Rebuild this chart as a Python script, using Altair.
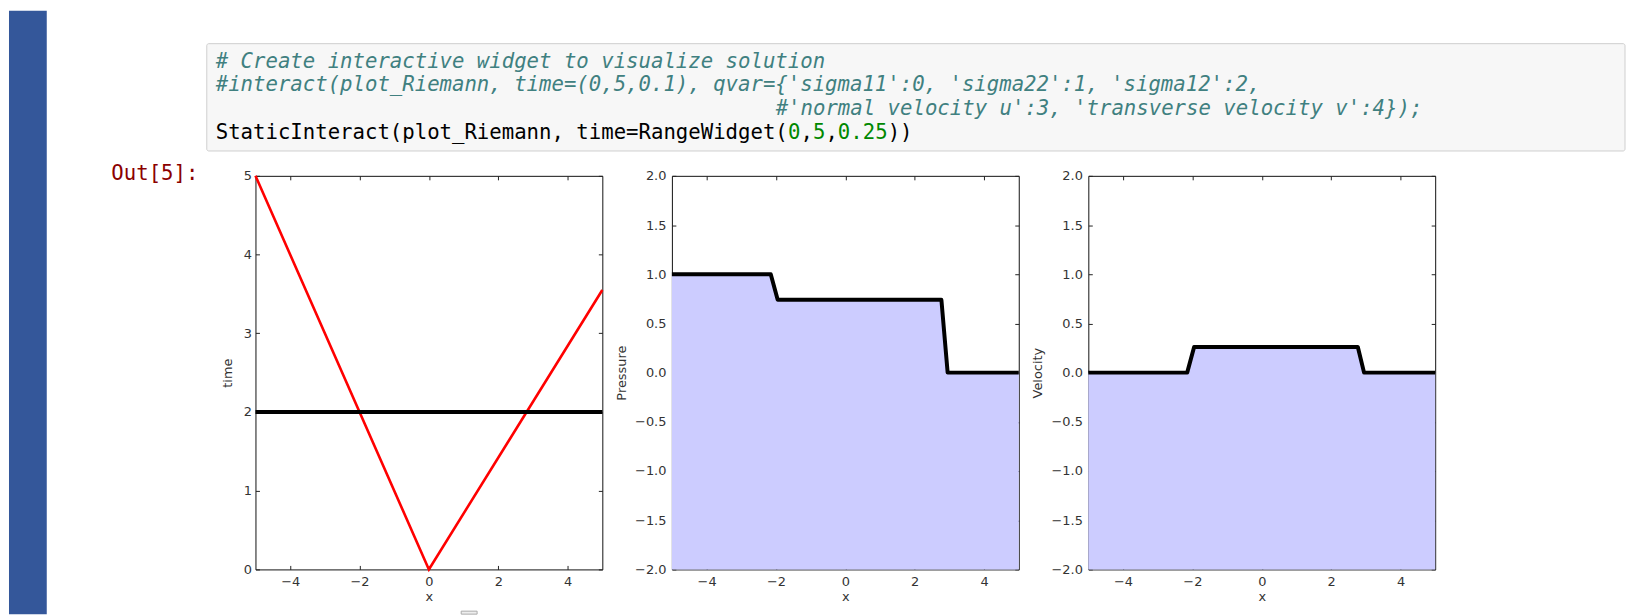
import altair as alt
import pandas as pd

# ---------------- data ----------------
x_char = [-5.0, 0.0, 5.0]          # characteristic lines (x)
t_char = [5.0, 0.0, 3.55]          # characteristic lines (time)
x_time = [-5.0, 5.0]               # current time line
t_time = [2.0, 2.0]
x_sol = [-5.0, -2.15, -1.95, 2.77, 2.95, 5.0]
pressure = [1.0, 1.0, 0.74, 0.74, 0.0, 0.0]
velocity = [0.0, 0.0, 0.26, 0.26, 0.0, 0.0]
x_ticks = [-4, -2, 0, 2, 4]
t_ticks = [0, 1, 2, 3, 4, 5]
q_ticks = [-2.0, -1.5, -1.0, -0.5, 0.0, 0.5, 1.0, 1.5, 2.0]

code_line_1 = "# Create interactive widget to visualize solution"
code_line_2 = "#interact(plot_Riemann, time=(0,5,0.1), qvar={'sigma11':0, 'sigma22':1, 'sigma12':2,"
code_line_3 = "#'normal velocity u':3, 'transverse velocity v':4});"
code_line_3_indent = 45
code_line_4 = [("StaticInteract(plot_Riemann, time=RangeWidget(", "code"), ("0", "num"), (",", "code"),
               ("5", "num"), (",", "code"), ("0.25", "num"), ("))", "code")]
out_prompt = "Out[5]:"

# ---------------- layout / style ----------------
W, H = 349, 396
X0, Y0 = 256, 174          # page position of first plot area
MONO = "DejaVu Sans Mono"
FS = 20.8
CW = 12.52
CODE_X = 216
BASE = [65, 89, 113, 137]
COLORS = {"code": "#000000", "num": "#008800", "comment": "#408080"}

dummy = pd.DataFrame({"k": [0]})


def rx(px):
    return px - X0


def ry(py):
    return py - Y0


def rect(x1, x2, y1, y2, fill, stroke=None, radius=0):
    kw = dict(fill=fill, cornerRadius=radius)
    if stroke:
        kw.update(stroke=stroke, strokeWidth=1)
    else:
        kw.update(strokeWidth=0)
    return alt.Chart(dummy).mark_rect(**kw).encode(
        x=alt.value(rx(x1)), x2=alt.value(rx(x2)), y=alt.value(ry(y1)), y2=alt.value(ry(y2)))


def txt(text, px, py, color, italic=False):
    return alt.Chart(dummy).mark_text(
        text=text, font=MONO, fontSize=FS, fontStyle="italic" if italic else "normal",
        color=color, align="left", baseline="alphabetic").encode(
        x=alt.value(rx(px)), y=alt.value(ry(py)))


decor = [
    rect(8, 46, 8, 615, "#34579a"),
    rect(207, 1634, 41, 149, "#f7f7f7", "#cfcfcf", 2),
    rect(463, 479, 612, 615, "#eeeeee", "#aaaaaa"),
    txt(code_line_1, CODE_X, BASE[0], COLORS["comment"], True),
    txt(code_line_2, CODE_X, BASE[1], COLORS["comment"], True),
    txt(code_line_3, CODE_X + code_line_3_indent * CW, BASE[2], COLORS["comment"], True),
    txt(out_prompt, 111, 178, "#8b0000"),
]
col = 0
for s, kind in code_line_4:
    decor.append(txt(s, CODE_X + col * CW, BASE[3], COLORS[kind]))
    col += len(s)

xs = alt.Scale(domain=[-5, 5], nice=False, zero=False)
ts = alt.Scale(domain=[0, 5], nice=False, zero=False)
qs = alt.Scale(domain=[-2, 2], nice=False, zero=False)

common = dict(offset=-4, tickSize=4, domain=False, grid=False, labelFlush=False,
              labelOverlap=False, labelBound=False)


def ax_bottom(title):
    return alt.Axis(orient="bottom", values=x_ticks, format="d", title=title,
                    labelPadding=6, titlePadding=2, **common)


def ax_left(values, fmt, title, lp, tp):
    return alt.Axis(orient="left", values=values, format=fmt, title=title,
                    labelPadding=lp, titlePadding=tp, **common)


def ax_top():
    return alt.Axis(orient="top", values=x_ticks, labels=False, title=None, **common)


def ax_right(values):
    return alt.Axis(orient="right", values=values, labels=False, title=None, **common)


# ----- panel 1: x-t plane -----
df_char = pd.DataFrame({"x": x_char, "t": t_char})
df_time = pd.DataFrame({"x": x_time, "t": t_time})

red = alt.Chart(df_char).mark_line(color="#ff0000", strokeWidth=2.6).encode(
    x=alt.X("x:Q", scale=xs, axis=ax_bottom("x")),
    y=alt.Y("t:Q", scale=ts, axis=ax_left(t_ticks, "d", "time", 4, 9)))
blk = alt.Chart(df_time).mark_line(color="#000000", strokeWidth=4).encode(
    x=alt.X("x:Q", scale=xs, axis=None), y=alt.Y("t:Q", scale=ts, axis=None))
frame1 = alt.Chart(df_time).mark_point(opacity=0).encode(
    x=alt.X("x:Q", scale=xs, axis=ax_top()), y=alt.Y("t:Q", scale=ts, axis=ax_right(t_ticks)))

p1 = alt.layer(*decor, red, blk, frame1).resolve_axis(x="independent", y="independent").properties(
    width=W, height=H)


def sol_panel(vals, title, tp):
    df = pd.DataFrame({"x": x_sol, "q": vals})
    area = alt.Chart(df).mark_area(color="#ccccff", opacity=1).encode(
        x=alt.X("x:Q", scale=xs, axis=ax_bottom("x")),
        y=alt.Y("q:Q", scale=qs, axis=ax_left(q_ticks, ".1f", title, 6, tp)),
        y2=alt.datum(-2.0))
    line = alt.Chart(df).mark_line(color="#000000", strokeWidth=4, strokeJoin="round").encode(
        x=alt.X("x:Q", scale=xs, axis=None), y=alt.Y("q:Q", scale=qs, axis=None))
    frame = alt.Chart(df).mark_point(opacity=0).encode(
        x=alt.X("x:Q", scale=xs, axis=ax_top()), y=alt.Y("q:Q", scale=qs, axis=ax_right(q_ticks)))
    return alt.layer(area, line, frame).resolve_axis(x="independent", y="independent").properties(
        width=W, height=H)


p2 = sol_panel(pressure, "Pressure", 6)
p3 = sol_panel(velocity, "Velocity", 7)

chart = alt.hconcat(p1, p2, p3, spacing=70, bounds="flush", padding=0).configure_view(
    stroke="#111111", strokeWidth=1).configure_axis(
    labelFont="DejaVu Sans", titleFont="DejaVu Sans", labelFontSize=13, titleFontSize=13,
    titleFontWeight="normal", labelColor="#333333", titleColor="#333333",
    tickColor="#222222", tickWidth=1).properties(background="white")

chart.save("out.html", embed_options={"renderer": "svg", "actions": False})
